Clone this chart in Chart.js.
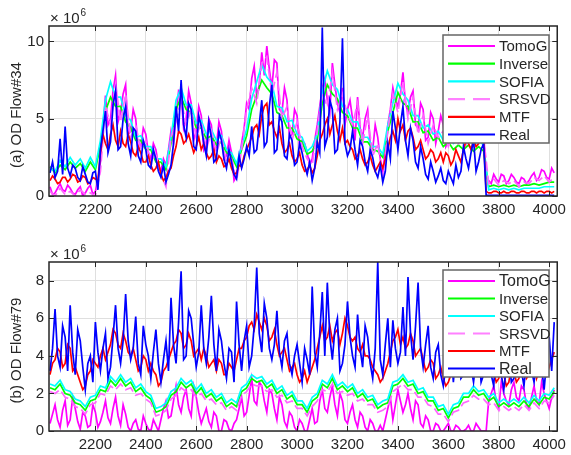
<!DOCTYPE html>
<html>
<head>
<meta charset="utf-8">
<script src="https://cdn.jsdelivr.net/npm/chart.js@4.4.0/dist/chart.umd.min.js"></script>
<style>
  html, body { margin: 0; padding: 0; background: #fff; }
  #wrap { position: relative; width: 571px; height: 455px; }
  canvas { position: absolute; left: 0; }
</style>
</head>
<body>
<div id="wrap">
  <canvas id="chartA" width="571" height="227" style="top:0"></canvas>
  <canvas id="chartB" width="571" height="228" style="top:227px"></canvas>
</div>
<script>
// time slot index (5 min bins), read every 20 slots
let slots = [
  2020, 2040, 2060, 2080, 2100, 2120, 2140, 2160, 2180, 2200,
  2220, 2240, 2260, 2280, 2300, 2320, 2340, 2360, 2380, 2400,
  2420, 2440, 2460, 2480, 2500, 2520, 2540, 2560, 2580, 2600,
  2620, 2640, 2660, 2680, 2700, 2720, 2740, 2760, 2780, 2800,
  2820, 2840, 2860, 2880, 2900, 2920, 2940, 2960, 2980, 3000,
  3020, 3040, 3060, 3080, 3100, 3120, 3140, 3160, 3180, 3200,
  3220, 3240, 3260, 3280, 3300, 3320, 3340, 3360, 3380, 3400,
  3420, 3440, 3460, 3480, 3500, 3520, 3540, 3560, 3580, 3600,
  3620, 3640, 3660, 3680, 3700, 3720, 3740, 3760, 3780, 3800,
  3820, 3840, 3860, 3880, 3900, 3920, 3940, 3960, 3980, 4000,
  4020
];
let xTicks = [2200, 2400, 2600, 2800, 3000, 3200, 3400, 3600, 3800, 4000];
let yTicksA = [0, 5, 10];
let yTicksB = [0, 2, 4, 6, 8];

// (a) OD Flow#34, x 1e6
let a_tomog = [
  0.6, 0.2, 0.8, 0.3, 0.5, 0.1, 0.6, 0.2, 0.7, 0.3,
  2.2, 6.5, 5.0, 7.8, 5.4, 7.2, 4.2, 5.0, 3.2, 4.0,
  2.4, 3.0, 1.6, 2.0, 4.2, 5.2, 6.6, 5.0, 6.0, 4.2,
  5.2, 3.4, 4.6, 3.2, 4.2, 2.6, 2.8, 1.3, 3.4, 6.0,
  7.6, 6.4, 9.3, 9.7, 7.0, 8.6, 5.4, 6.2, 4.0, 5.2,
  3.6, 2.8, 2.4, 4.6, 7.0, 6.2, 8.6, 6.0, 7.0, 5.6,
  5.0, 6.4, 3.8, 5.6, 3.0, 3.8, 1.6, 4.6, 7.0, 5.8,
  8.0, 5.4, 6.8, 4.4, 5.6, 3.8, 5.0, 4.2, 4.6, 3.6,
  4.4, 3.8, 4.8, 4.0, 4.5, 3.8, 4.2, 1.0, 1.4, 0.9,
  1.3, 1.0, 1.2, 0.8, 1.1, 1.0, 1.5, 1.2, 1.6, 1.1,
  1.5
];
// readings half way between the slots above
let a_tomog_mid = [
  0.1, 0.5, 0.4, 0.7, 0.2, 0.4, 0.0, 0.5, 0.1, 1.0,
  4.4, 4.6, 6.8, 4.8, 6.6, 4.0, 5.6, 3.0, 4.4, 2.8,
  3.4, 2.0, 2.4, 3.0, 3.4, 6.8, 4.4, 6.8, 3.6, 5.8,
  3.0, 5.0, 2.8, 4.8, 2.4, 3.6, 1.0, 2.4, 4.4, 5.6,
  8.4, 7.2, 7.8, 8.2, 8.8, 5.6, 7.0, 3.8, 5.6, 3.2,
  3.4, 2.0, 3.6, 5.8, 7.6, 5.4, 7.2, 5.4, 4.6, 6.2,
  3.6, 4.4, 5.0, 3.4, 4.6, 2.4, 3.0, 5.6, 6.2, 6.6,
  6.0, 6.4, 4.6, 6.0, 3.6, 5.4, 3.4, 5.2, 3.2, 4.8,
  3.6, 4.6, 3.4, 5.0, 3.6, 4.6, 1.2, 0.8, 1.1, 1.4,
  0.8, 1.4, 0.9, 1.2, 0.8, 1.3, 1.0, 1.7, 1.2, 1.8
];
let a_inverse = [
  1.9, 1.5, 2.0, 1.7, 2.2, 1.8, 2.1, 1.6, 2.2, 1.7,
  3.3, 5.5, 6.4, 5.8, 5.8, 4.8, 4.4, 3.6, 3.6, 3.0,
  3.0, 2.2, 2.2, 1.7, 3.4, 5.6, 6.4, 5.6, 5.4, 4.4,
  4.4, 3.7, 3.9, 3.3, 3.5, 2.8, 2.6, 1.9, 3.0, 3.9,
  5.6, 6.5, 7.5, 7.0, 6.6, 5.4, 5.2, 4.4, 4.4, 3.7,
  3.5, 2.7, 2.9, 3.6, 6.0, 7.2, 6.6, 6.3, 5.4, 5.2,
  4.4, 4.4, 3.5, 3.5, 3.0, 2.9, 2.5, 4.2, 5.4, 6.7,
  6.0, 5.8, 4.8, 4.8, 4.1, 4.2, 3.6, 3.8, 3.2, 3.5,
  3.0, 3.3, 3.0, 3.3, 2.9, 3.2, 2.9, 0.6, 0.7, 0.6,
  0.7, 0.6, 0.7, 0.6, 0.7, 0.7, 0.8, 0.7, 0.8, 0.9,
  0.9
];
let a_sofia = [
  1.8, 1.6, 2.3, 1.9, 2.5, 2.0, 2.4, 1.8, 2.5, 1.9,
  3.6, 6.2, 7.4, 6.4, 6.4, 5.2, 4.9, 3.8, 3.9, 3.2,
  3.2, 2.4, 2.4, 1.9, 3.8, 6.2, 7.0, 5.9, 5.9, 4.7,
  4.9, 4.0, 4.3, 3.6, 3.9, 3.0, 2.8, 2.1, 3.2, 4.3,
  6.3, 7.4, 8.5, 7.7, 7.3, 5.8, 5.7, 4.8, 4.9, 4.0,
  3.8, 2.9, 3.2, 4.0, 6.8, 8.1, 7.2, 6.9, 5.8, 5.6,
  4.8, 4.8, 3.8, 3.8, 3.2, 3.2, 2.7, 4.6, 6.0, 7.3,
  6.6, 6.2, 5.2, 5.2, 4.4, 4.6, 4.0, 4.2, 3.6, 3.9,
  3.4, 3.7, 3.4, 3.7, 3.3, 3.6, 3.3, 0.4, 0.5, 0.4,
  0.5, 0.4, 0.5, 0.4, 0.5, 0.5, 0.5, 0.5, 0.6, 0.6,
  0.6
];
let a_srsvd = [
  0.3, 0.0, 0.5, 0.1, 0.3, 0.0, 0.4, 0.1, 0.2, 0.0,
  1.6, 5.8, 4.6, 7.2, 4.8, 6.6, 3.8, 4.6, 3.0, 3.6,
  2.2, 2.8, 1.4, 0.6, 3.8, 4.8, 6.2, 4.6, 5.6, 3.8,
  4.8, 3.0, 4.2, 2.8, 3.8, 2.2, 2.4, 1.0, 3.0, 5.6,
  7.0, 6.0, 8.6, 9.0, 6.6, 8.0, 5.0, 5.8, 3.6, 4.8,
  3.2, 2.4, 2.0, 4.2, 6.6, 5.8, 8.0, 5.6, 6.6, 5.2,
  4.6, 6.0, 3.4, 5.2, 2.6, 3.4, 1.2, 4.2, 6.6, 5.4,
  7.4, 5.0, 6.4, 4.0, 5.2, 3.4, 4.6, 3.8, 4.2, 3.2,
  4.0, 3.4, 4.4, 3.6, 4.1, 3.4, 3.8, 0.8, 1.1, 0.7,
  1.0, 0.8, 1.0, 0.6, 0.9, 0.8, 1.2, 1.0, 1.3, 0.9,
  1.2
];
let a_mtf = [
  1.0, 1.1, 0.9, 1.2, 1.1, 1.3, 1.0, 1.2, 0.9, 1.1,
  2.8, 3.4, 4.0, 3.6, 4.2, 3.2, 3.5, 2.6, 2.8, 2.2,
  2.0, 1.8, 1.4, 1.2, 1.8, 3.2, 4.0, 3.6, 3.4, 3.2,
  3.0, 2.8, 2.6, 2.2, 2.4, 2.0, 1.8, 1.5, 1.9, 3.0,
  3.8, 4.6, 5.2, 6.0, 4.8, 3.8, 3.4, 3.0, 2.6, 2.4,
  2.0, 1.7, 1.5, 2.6, 4.0, 5.0, 4.6, 4.2, 4.4, 3.6,
  3.0, 2.6, 2.4, 2.2, 2.0, 1.9, 1.8, 3.0, 4.2, 5.0,
  4.6, 4.2, 3.8, 3.2, 3.0, 2.6, 2.8, 2.4, 2.2, 2.6,
  2.3, 2.6, 3.0, 3.4, 3.6, 3.4, 3.6, 0.2, 0.3, 0.2,
  0.3, 0.2, 0.3, 0.2, 0.3, 0.2, 0.3, 0.3, 0.2, 0.3,
  0.3
];
let a_mtf_mid = [
  1.3, 0.8, 1.2, 0.9, 1.4, 0.9, 1.3, 0.8, 1.2, 1.0,
  4.0, 3.0, 4.6, 3.2, 3.4, 4.0, 2.8, 3.2, 2.2, 2.6,
  1.6, 2.2, 1.0, 1.6, 2.6, 4.2, 3.4, 4.0, 2.8, 3.8,
  3.4, 2.4, 3.0, 2.6, 1.9, 2.4, 1.4, 2.0, 2.6, 3.4,
  4.4, 4.0, 5.8, 4.6, 4.2, 4.4, 2.8, 3.4, 2.2, 2.8,
  1.6, 2.0, 1.8, 3.6, 4.6, 4.0, 5.2, 3.6, 3.4, 3.2,
  2.4, 3.0, 2.0, 2.6, 1.6, 2.2, 2.4, 3.8, 3.6, 4.2,
  3.6, 4.4, 3.0, 3.6, 2.4, 3.0, 2.2, 2.8, 2.8, 2.0,
  3.0, 2.2, 3.6, 3.0, 3.2, 3.8, 0.3, 0.2, 0.3, 0.2,
  0.2, 0.3, 0.2, 0.3, 0.2, 0.3, 0.2, 0.3, 0.3, 0.2
];
let a_real = [
  1.5, 1.2, 3.7, 4.5, 1.3, 1.8, 1.0, 1.4, 0.8, 1.6,
  3.0, 5.5, 3.5, 6.8, 3.2, 5.8, 2.6, 4.2, 2.2, 3.0,
  1.8, 2.4, 1.2, 0.9, 2.0, 5.8, 7.5, 3.8, 5.6, 3.0,
  4.5, 2.6, 3.8, 2.4, 3.6, 1.8, 2.2, 1.1, 1.8, 3.2,
  4.5, 3.0, 6.2, 3.5, 7.2, 3.0, 4.8, 2.4, 3.6, 2.2,
  2.8, 1.4, 1.0, 3.5, 10.9, 3.8, 5.6, 3.0, 10.2, 2.6,
  4.2, 2.0, 3.2, 1.6, 2.5, 1.2, 0.9, 3.4, 5.5, 3.0,
  5.8, 2.6, 3.6, 1.8, 2.4, 1.1, 1.6, 1.3, 1.0, 1.6,
  0.8, 1.2, 3.2, 1.8, 3.6, 2.2, 3.4, 0.05, 0.05, 0.05,
  0.05, 0.05, 0.05, 0.05, 0.05, 0.05, 0.05, 0.05, 0.05, 0.05,
  0.05
];
let a_real_mid = [
  2.2, 1.6, 1.4, 1.8, 2.0, 1.2, 1.9, 0.9, 1.5, 0.4,
  4.2, 2.8, 5.9, 3.0, 5.0, 3.4, 4.4, 2.6, 3.6, 2.0,
  3.0, 1.6, 2.0, 1.4, 3.4, 4.2, 4.6, 6.0, 3.2, 5.2,
  3.4, 4.8, 2.2, 4.2, 2.4, 3.0, 1.4, 2.6, 2.4, 2.6,
  2.8, 4.6, 3.2, 5.8, 2.8, 5.2, 2.6, 4.0, 2.0, 3.4,
  2.0, 2.2, 1.8, 2.8, 3.2, 6.2, 2.8, 4.8, 3.4, 3.0,
  3.0, 3.6, 2.2, 3.0, 1.6, 2.0, 1.6, 2.4, 4.4, 4.6,
  3.6, 4.4, 2.2, 3.2, 1.4, 2.2, 0.9, 1.8, 0.8, 1.2,
  2.0, 1.6, 2.4, 2.8, 1.6, 3.0, 0.05, 0.05, 0.05, 0.05,
  0.05, 0.05, 0.05, 0.05, 0.05, 0.05, 0.05, 0.05, 0.05, 0.05
];

// (b) OD Flow#79, x 1e6
let b_tomog = [
  0.4, 1.4, 0.2, 1.6, 0.6, 1.2, 0.1, 0.8, 0.3, 1.0,
  0.5, 1.6, 0.4, 1.8, 0.3, 0.9, 0.0, 0.6, 0.0, 0.4,
  0.0, 0.3, 0.6, 1.6, 0.8, 2.4, 1.0, 2.2, 0.8, 1.8,
  0.4, 1.2, 0.2, 0.8, 0.0, 0.5, 0.0, 0.6, 1.8, 1.0,
  2.8, 1.4, 2.4, 1.0, 2.0, 0.6, 1.4, 0.2, 0.8, 0.0,
  0.4, 0.0, 1.2, 0.5, 2.2, 1.0, 2.4, 0.8, 1.6, 0.4,
  1.4, 0.2, 0.8, 0.0, 0.4, 0.0, 0.0, 1.2, 0.6, 2.2,
  1.0, 2.0, 0.6, 1.4, 0.2, 0.6, 0.0, 0.3, 0.0, 0.4,
  0.0, 0.2, 0.0, 0.3, 0.0, 0.2, 0.0, 1.6, 2.4, 1.2,
  2.0, 1.4, 2.6, 1.6, 2.2, 1.2, 2.4, 1.4, 2.0, 1.2,
  2.2
];
let b_tomog_mid = [
  0.9, 0.6, 1.1, 0.3, 1.8, 0.5, 1.0, 0.2, 1.4, 0.2,
  1.0, 0.7, 1.2, 0.8, 1.4, 0.2, 0.4, 0.1, 0.8, 0.1,
  0.6, 0.0, 1.2, 0.7, 1.6, 1.4, 1.8, 1.2, 2.4, 1.0,
  0.8, 0.5, 1.0, 0.0, 0.6, 0.1, 0.4, 1.2, 0.8, 1.9,
  1.6, 2.6, 1.6, 2.2, 1.2, 1.8, 0.5, 1.0, 0.2, 0.6,
  0.0, 0.6, 0.4, 1.6, 1.2, 1.8, 1.4, 2.0, 0.6, 1.0,
  0.6, 1.0, 0.2, 0.6, 0.0, 0.3, 0.6, 1.8, 1.4, 1.6,
  1.4, 1.2, 1.6, 0.4, 0.8, 0.0, 0.4, 0.0, 0.2, 0.0,
  0.3, 0.0, 0.1, 0.0, 0.4, 0.0, 0.0, 2.0, 1.6, 2.6,
  1.6, 2.2, 1.8, 2.4, 1.4, 1.8, 1.6, 2.6, 1.6, 1.8
];
let b_inverse = [
  2.3, 2.2, 2.5, 2.0, 1.9, 1.5, 1.4, 1.1, 1.6, 1.7,
  2.2, 2.1, 2.7, 2.4, 2.8, 2.4, 2.6, 2.1, 2.3, 1.9,
  1.7, 1.0, 1.1, 1.3, 1.9, 2.1, 2.6, 2.3, 2.5, 2.0,
  2.3, 1.8, 2.0, 1.6, 1.8, 1.3, 1.5, 1.3, 2.1, 2.3,
  2.8, 2.6, 2.7, 2.3, 2.5, 2.0, 2.2, 1.7, 1.9, 1.4,
  1.4, 1.0, 1.6, 1.8, 2.5, 2.3, 2.8, 2.2, 2.4, 2.1,
  2.3, 1.8, 2.0, 1.6, 1.7, 1.2, 1.4, 1.5, 2.4, 2.5,
  2.8, 2.4, 2.5, 2.0, 2.1, 1.6, 1.6, 1.1, 1.2, 0.7,
  1.2, 1.3, 1.8, 1.8, 2.2, 1.9, 2.0, 1.6, 1.8, 1.3,
  1.5, 1.3, 1.5, 1.3, 1.6, 1.3, 1.7, 1.4, 1.8, 1.7,
  2.1
];
let b_sofia = [
  2.5, 2.4, 2.7, 2.2, 2.1, 1.7, 1.6, 1.3, 1.8, 1.9,
  2.4, 2.3, 2.9, 2.6, 3.0, 2.6, 2.8, 2.3, 2.5, 2.1,
  1.9, 1.2, 1.3, 1.5, 2.1, 2.3, 2.8, 2.5, 2.7, 2.2,
  2.5, 2.0, 2.2, 1.8, 2.0, 1.5, 1.7, 1.5, 2.3, 2.5,
  3.0, 2.8, 2.9, 2.5, 2.7, 2.2, 2.4, 1.9, 2.1, 1.6,
  1.6, 1.2, 1.8, 2.0, 2.7, 2.5, 3.0, 2.4, 2.6, 2.3,
  2.5, 2.0, 2.2, 1.8, 1.9, 1.4, 1.6, 1.7, 2.6, 2.7,
  3.0, 2.6, 2.7, 2.2, 2.3, 1.8, 1.8, 1.3, 1.4, 0.9,
  1.4, 1.5, 2.0, 2.0, 2.4, 2.1, 2.2, 1.8, 2.0, 1.5,
  1.7, 1.5, 1.7, 1.5, 1.8, 1.5, 1.9, 1.6, 2.0, 1.9,
  2.3
];
let b_srsvd = [
  2.1, 2.0, 2.2, 1.8, 1.7, 1.3, 1.2, 0.9, 1.4, 1.5,
  2.0, 1.9, 2.4, 2.2, 2.5, 2.2, 2.3, 1.9, 2.0, 1.7,
  1.5, 0.8, 0.9, 1.1, 1.7, 1.9, 2.3, 2.1, 2.2, 1.8,
  2.0, 1.6, 1.7, 1.4, 1.5, 1.1, 1.3, 1.1, 1.9, 2.1,
  2.5, 2.4, 2.4, 2.1, 2.2, 1.8, 1.9, 1.5, 1.6, 1.2,
  1.2, 0.8, 1.3, 1.6, 2.2, 2.1, 2.5, 2.0, 2.1, 1.9,
  2.0, 1.6, 1.7, 1.4, 1.4, 1.0, 1.1, 1.3, 2.1, 2.3,
  2.5, 2.2, 2.2, 1.8, 1.8, 1.4, 1.3, 0.9, 0.9, 0.5,
  1.0, 1.1, 1.5, 1.6, 1.9, 1.7, 1.7, 1.4, 1.5, 1.1,
  1.3, 1.1, 1.3, 1.1, 1.4, 1.1, 1.5, 1.2, 1.6, 1.5,
  1.9
];
let b_mtf = [
  3.0, 3.8, 4.2, 3.6, 4.4, 3.4, 2.6, 2.4, 3.2, 3.6,
  4.0, 3.8, 4.6, 5.2, 4.4, 4.8, 4.0, 3.8, 3.4, 3.8,
  3.6, 3.0, 2.6, 3.4, 4.2, 4.8, 5.2, 4.6, 4.8, 4.2,
  3.8, 4.0, 3.6, 3.2, 3.6, 3.0, 3.4, 3.8, 4.4, 5.0,
  5.8, 6.2, 5.4, 5.6, 5.0, 4.6, 4.2, 3.8, 3.4, 3.0,
  2.8, 2.6, 3.4, 4.4, 5.6, 5.0, 4.8, 5.4, 5.2, 5.6,
  4.8, 4.4, 4.6, 4.0, 3.4, 3.0, 2.8, 3.6, 4.8, 5.4,
  5.0, 4.6, 4.8, 4.2, 3.8, 3.4, 3.6, 3.0, 2.8, 2.6,
  3.2, 3.4, 3.8, 4.2, 3.8, 4.0, 3.6, 3.4, 3.2, 2.8,
  3.0, 2.6, 3.2, 2.8, 3.4, 3.0, 3.6, 3.2, 3.8, 3.4,
  4.2
];
let b_mtf_mid = [
  3.6, 4.4, 3.4, 4.6, 3.2, 3.0, 2.2, 3.0, 3.8, 3.4,
  4.4, 4.2, 5.4, 4.6, 5.2, 4.2, 4.4, 3.2, 4.0, 3.2,
  3.2, 2.4, 3.2, 3.8, 4.6, 5.4, 4.4, 5.2, 4.0, 4.4,
  4.4, 3.4, 3.8, 3.8, 3.0, 3.6, 3.2, 4.4, 4.8, 5.6,
  5.4, 5.8, 6.0, 4.8, 5.4, 4.0, 4.4, 3.2, 3.6, 2.6,
  3.2, 3.0, 3.8, 5.0, 4.8, 5.6, 5.2, 4.6, 6.0, 5.0,
  5.0, 4.2, 4.0, 3.8, 3.2, 2.6, 3.2, 4.2, 5.0, 4.6,
  4.4, 5.2, 4.0, 4.4, 3.2, 3.8, 2.8, 3.4, 2.4, 3.0,
  3.8, 3.0, 4.4, 3.6, 4.2, 3.4, 3.0, 3.8, 2.6, 3.4,
  2.4, 3.4, 2.6, 3.6, 2.8, 3.8, 2.8, 4.0, 3.0, 3.8
];
let b_real = [
  3.2, 6.5, 3.4, 5.0, 6.7, 3.0, 4.8, 2.2, 4.0, 5.8,
  3.2, 5.2, 3.4, 6.7, 3.6, 7.3, 3.8, 6.1, 3.0, 4.6,
  2.8, 5.4, 2.6, 4.8, 7.1, 3.6, 8.5, 4.0, 6.0, 3.4,
  6.7, 3.6, 7.2, 3.2, 4.8, 2.8, 4.2, 6.9, 3.2, 5.6,
  4.0, 8.7, 4.2, 6.0, 3.8, 6.4, 3.4, 5.2, 3.0, 4.6,
  2.6, 3.8, 7.7, 3.4, 7.4, 7.9, 3.8, 6.0, 3.6, 6.9,
  4.0, 6.2, 3.4, 5.0, 2.8, 9.0, 3.0, 6.0, 5.9, 3.6,
  6.6, 8.2, 3.8, 7.9, 3.4, 5.6, 2.8, 4.6, 2.4, 4.0,
  2.6, 5.2, 3.0, 4.8, 2.6, 4.4, 3.0, 4.2, 2.4, 3.6,
  2.2, 4.0, 2.8, 4.6, 2.4, 4.8, 2.6, 4.2, 2.2, 5.0,
  5.8
];
let b_real_mid = [
  4.4, 4.0, 5.6, 3.2, 4.2, 5.4, 3.4, 3.6, 2.6, 4.2,
  4.4, 2.8, 5.0, 4.4, 4.8, 4.8, 4.4, 3.6, 5.6, 4.0,
  4.2, 3.6, 3.8, 3.2, 4.6, 5.8, 3.8, 6.4, 4.6, 4.2,
  4.4, 5.0, 4.6, 5.4, 3.6, 4.4, 2.6, 4.6, 4.8, 3.4,
  5.6, 5.2, 6.8, 4.4, 4.6, 4.2, 4.8, 3.6, 4.0, 3.6,
  4.4, 3.0, 4.2, 5.2, 4.0, 5.0, 5.4, 3.2, 4.6, 5.0,
  3.4, 4.4, 5.6, 3.6, 4.4, 3.8, 4.6, 3.4, 4.4, 4.2,
  4.0, 5.2, 5.6, 4.4, 4.6, 3.4, 4.2, 3.0, 3.4, 4.4,
  4.2, 2.8, 4.4, 3.4, 3.8, 2.6, 3.8, 3.0, 4.4, 3.0,
  3.4, 2.6, 3.8, 3.2, 3.8, 3.2, 3.8, 3.4, 3.8, 3.2
];

let fontFam = '"Liberation Sans", Arial, Helvetica, sans-serif';
let axisColor = '#262626';

function serie(label, color, ys, order, dashed, mids) {
    let pts = [];
    slots.forEach((x, i) => {
        pts.push({ x: x, y: ys[i] });
        if (mids && i < mids.length) pts.push({ x: x + 10, y: mids[i] });
    });
    return {
        label: label,
        data: pts,
        borderColor: color,
        backgroundColor: color,
        borderWidth: 1.7,
        borderDash: dashed ? [10, 4] : [],
        pointRadius: 0,
        tension: 0,
        fill: false,
        order: order
    };
}

// MATLAB-like box, inward ticks, exponent, ylabel and legend
let matlabFrame = {
    id: 'matlabFrame',
    afterDraw(chart, args, opts) {
        let ctx = chart.ctx;
        let a = chart.chartArea;
        let sx = chart.scales.x, sy = chart.scales.y;
        ctx.save();
        ctx.strokeStyle = axisColor;
        ctx.lineWidth = 1;
        ctx.beginPath();
        xTicks.forEach(v => {
            let px = Math.round(sx.getPixelForValue(v)) + 0.5;
            ctx.moveTo(px, a.bottom); ctx.lineTo(px, a.bottom - 5);
            ctx.moveTo(px, a.top); ctx.lineTo(px, a.top + 5);
        });
        opts.yTicks.forEach(v => {
            let py = Math.round(sy.getPixelForValue(v)) + 0.5;
            ctx.moveTo(a.left, py); ctx.lineTo(a.left + 5, py);
            ctx.moveTo(a.right, py); ctx.lineTo(a.right - 5, py);
        });
        ctx.stroke();
        ctx.lineWidth = 1.5;
        ctx.strokeRect(a.left, a.top, a.right - a.left, a.bottom - a.top);

        // x 10^6
        ctx.fillStyle = axisColor;
        ctx.textAlign = 'left';
        ctx.textBaseline = 'alphabetic';
        ctx.font = '15px ' + fontFam;
        ctx.fillText('\u00d7 10', a.left + 1, a.top - 3);
        let w = ctx.measureText('\u00d7 10').width;
        ctx.font = '10px ' + fontFam;
        ctx.fillText('6', a.left + 2 + w, a.top - 10);

        // y label
        ctx.save();
        ctx.translate(17, (a.top + a.bottom) / 2 + 4);
        ctx.rotate(-Math.PI / 2);
        ctx.textAlign = 'center';
        ctx.textBaseline = 'middle';
        ctx.font = '15px ' + fontFam;
        ctx.fillText(opts.ylabel, 0, 0);
        ctx.restore();

        // legend box
        let lb = opts.legend;
        ctx.fillStyle = '#fff';
        ctx.fillRect(lb.x, lb.y, lb.w, lb.h);
        ctx.strokeStyle = '#666';
        ctx.lineWidth = 1.5;
        ctx.strokeRect(lb.x, lb.y, lb.w, lb.h);
        chart.data.datasets.forEach((ds, i) => {
            let cy = lb.y + 11 + i * lb.step;
            ctx.strokeStyle = ds.label === 'SRSVD' ? '#ff80ff' : ds.borderColor;
            ctx.lineWidth = 2.2;
            ctx.setLineDash(ds.borderDash.length ? [17, 8] : []);
            ctx.beginPath();
            ctx.moveTo(lb.x + 5, cy);
            ctx.lineTo(lb.x + 52, cy);
            ctx.stroke();
            ctx.setLineDash([]);
            ctx.fillStyle = axisColor;
            ctx.textAlign = 'left';
            ctx.textBaseline = 'middle';
            ctx.font = lb.sizes[i] + 'px ' + fontFam;
            ctx.fillText(ds.label, lb.x + 56, cy + 1);
        });
        ctx.restore();
    }
};

function makeChart(id, sets, yMax, yTicks, padTop, xHeight, frameOpts) {
    let ctx = document.getElementById(id).getContext('2d');
    return new Chart(ctx, {
        type: 'line',
        data: { datasets: sets },
        options: {
            responsive: false,
            animation: false,
            events: [],
            layout: { padding: { top: padTop, right: 9, left: 0, bottom: 0 } },
            plugins: {
                legend: { display: false },
                tooltip: { enabled: false },
                matlabFrame: frameOpts
            },
            scales: {
                x: {
                    type: 'linear',
                    min: 2016,
                    max: 4032,
                    afterBuildTicks: s => { s.ticks = xTicks.map(v => ({ value: v })); },
                    afterFit: s => { s.height = xHeight; },
                    grid: { color: '#dfdfdf', drawTicks: false },
                    border: { display: false },
                    ticks: {
                        autoSkip: false, maxRotation: 0, padding: 5,
                        color: axisColor, font: { family: fontFam, size: 15 },
                        callback: v => String(v)
                    }
                },
                y: {
                    type: 'linear',
                    min: 0,
                    max: yMax,
                    afterBuildTicks: s => { s.ticks = yTicks.map(v => ({ value: v })); },
                    afterFit: s => { s.width = 49; },
                    grid: { color: '#dfdfdf', drawTicks: false },
                    border: { display: false },
                    ticks: {
                        padding: 5, color: axisColor,
                        font: { family: fontFam, size: 15 },
                        callback: v => String(v)
                    }
                }
            }
        },
        plugins: [matlabFrame]
    });
}

let setsA = [
    serie('TomoG', '#ff00ff', a_tomog, 5, false, a_tomog_mid),
    serie('Inverse', '#00ff00', a_inverse, 4, false),
    serie('SOFIA', '#00ffff', a_sofia, 3, false),
    serie('SRSVD', '#ff66ff', a_srsvd, 2, true),
    serie('MTF', '#ff0000', a_mtf, 1, false, a_mtf_mid),
    serie('Real', '#0000ff', a_real, 0, false, a_real_mid)
];
let setsB = [
    serie('TomoG', '#ff00ff', b_tomog, 5, false, b_tomog_mid),
    serie('Inverse', '#00ff00', b_inverse, 4, false),
    serie('SOFIA', '#00ffff', b_sofia, 3, false),
    serie('SRSVD', '#ff66ff', b_srsvd, 2, true),
    serie('MTF', '#ff0000', b_mtf, 1, false, b_mtf_mid),
    serie('Real', '#0000ff', b_real, 0, false, b_real_mid)
];

makeChart('chartA', setsA, 11, yTicksA, 26, 31, {
    yTicks: yTicksA,
    ylabel: '(a) OD Flow#34',
    legend: { x: 443, y: 35, w: 106, h: 108, step: 17.7, sizes: [15, 15, 15, 15, 15, 15] }
});
makeChart('chartB', setsB, 9, yTicksB, 35, 24, {
    yTicks: yTicksB,
    ylabel: '(b) OD Flow#79',
    legend: { x: 443, y: 43, w: 106, h: 107, step: 17.5, sizes: [16, 15, 15, 15, 15, 16] }
});
</script>
</body>
</html>
